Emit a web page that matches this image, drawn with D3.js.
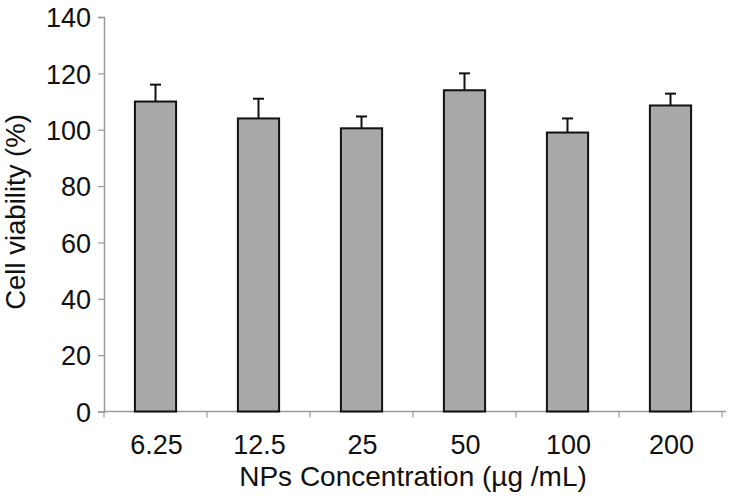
<!DOCTYPE html>
<html><head><meta charset="utf-8">
<script src="https://cdn.jsdelivr.net/npm/d3@7"></script>
<style>body{margin:0;background:#fff;} svg{display:block;}</style>
</head><body>
<svg id="c" width="730" height="496"></svg>
<script>
const categories = ["6.25","12.5","25","50","100","200"];
const values = [110, 104, 100.5, 114, 99, 108.6];
const errors = [6, 7, 4.2, 6, 5, 4.2];
const yTicks = [0,20,40,60,80,100,120,140];
const xTitle = "NPs Concentration (µg /mL)";
const yTitle = "Cell viability (%)";

(function(){
const svg = d3.select("#c");
const font = "'Liberation Sans', Arial, Helvetica, sans-serif";
const mLeft = 104, mRight = 722, mTop = 17, mBottom = 411.5;
const x = d3.scaleBand().domain(categories).range([mLeft, mRight]).paddingInner(0.6).paddingOuter(0.3);
const y = d3.scaleLinear().domain([0,140]).range([mBottom, mTop]);
const axisColor = "#9a9a9a";

// y axis
const ya = svg.append("g").attr("transform", `translate(${mLeft},0)`)
  .call(d3.axisLeft(y).tickValues(yTicks).tickSize(6).tickPadding(7));
ya.select(".domain").attr("stroke", axisColor).attr("stroke-width", 1.5);
ya.selectAll(".tick line").attr("stroke", axisColor).attr("stroke-width", 1.2);
ya.selectAll(".tick text").attr("font-family", font).attr("font-size", 27).attr("fill", "#111").attr("dy", "0.36em");

// x axis with ticks at band boundaries
const xa = svg.append("g").attr("transform", `translate(0,${mBottom})`);
xa.append("line").attr("x1", mLeft).attr("x2", 726).attr("y1", 0).attr("y2", 0)
  .attr("stroke", axisColor).attr("stroke-width", 1.5);
const step = x.step();
const bounds = d3.range(categories.length + 1).map(i => mLeft + i * step);
xa.selectAll("line.tk").data(bounds).join("line").attr("class","tk")
  .attr("x1", d => d).attr("x2", d => d).attr("y1", 0).attr("y2", 6)
  .attr("stroke", axisColor).attr("stroke-width", 1.2);
xa.selectAll("text").data(categories).join("text")
  .attr("x", d => x(d) + x.bandwidth()/2 + 1).attr("y", 42)
  .attr("text-anchor", "middle").attr("font-family", font).attr("font-size", 27).attr("fill", "#111")
  .text(d => d);

// bars
const bw = x.bandwidth();
svg.append("g").selectAll("rect").data(categories).join("rect")
  .attr("x", d => x(d)).attr("width", bw)
  .attr("y", (d,i) => y(values[i])).attr("height", (d,i) => y(0) - y(values[i]))
  .attr("fill", "#a8a8a8").attr("stroke", "#111").attr("stroke-width", 2);

// error bars
const eg = svg.append("g").attr("stroke", "#111").attr("stroke-width", 2);
categories.forEach((c,i) => {
  const cx = x(c) + bw/2;
  eg.append("line").attr("x1", cx).attr("x2", cx).attr("y1", y(values[i])).attr("y2", y(values[i]+errors[i]));
  eg.append("line").attr("x1", cx-5.5).attr("x2", cx+5.5).attr("y1", y(values[i]+errors[i])).attr("y2", y(values[i]+errors[i]));
});

// titles
svg.append("text").attr("x", 413).attr("y", 486).attr("text-anchor","middle")
  .attr("font-family", font).attr("font-size", 28).attr("fill","#111").text(xTitle);
svg.append("text").attr("transform", `translate(25,212) rotate(-90)`).attr("text-anchor","middle")
  .attr("font-family", font).attr("font-size", 27.5).attr("fill","#111").text(yTitle);
})();
</script>
</body></html>
